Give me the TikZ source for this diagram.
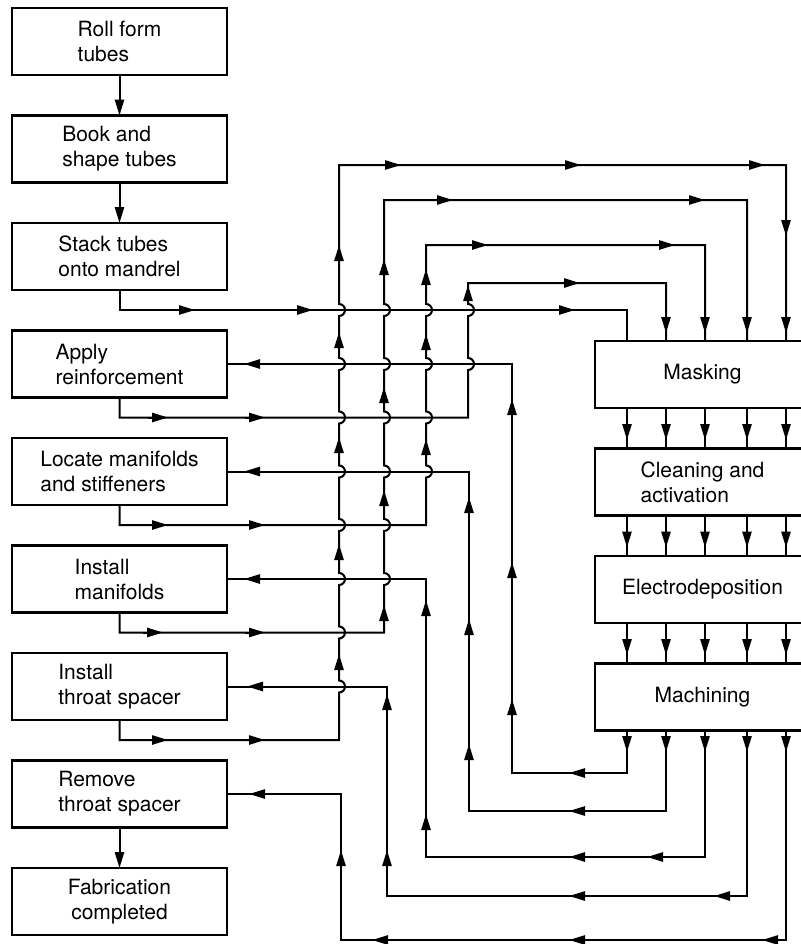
\documentclass[tikz,border=0pt]{standalone}
\usepackage{fontspec}
\setmainfont{TeX Gyre Heros}
\usetikzlibrary{positioning, arrows.meta}

\tikzset{
  procbox/.style={rectangle, draw, line width=1.3pt, outer sep=0pt, minimum width=107.5pt, minimum height=33.5pt, align=left},
  wire/.style={line width=1pt},
  midhead/.style={line width=1pt, -{Triangle[length=8pt, width=4.6pt]}}
}
% arrowhead sitting on a line: x, y, direction
\newcommand{\tipat}[3]{\draw[midhead] ([shift={(#3+180:6pt)}]#1,#2) -- ++(#3:10pt);}

\begin{document}
\begin{tikzpicture}[x=0.5pt, y=-0.5pt, font=\fontsize{10.5}{12.5}\selectfont, >={Triangle[length=8pt, width=4.6pt]}]
  \useasboundingbox (0,0) rectangle (801,944);

  % fabrication steps
  \node[procbox] (roll) at (119.5,41.5) {Roll form\\tubes};
  \node[procbox, below=20.25pt of roll] (book) {Book and\\shape tubes};
  \node[procbox, below=20.25pt of book] (stack) {Stack tubes\\onto mandrel};
  \node[procbox, below=20.25pt of stack] (apply) {Apply\\reinforcement};
  \node[procbox, below=20.25pt of apply] (locate) {Locate manifolds\\and stiffeners};
  \node[procbox, below=20.25pt of locate] (manif) {Install\\manifolds};
  \node[procbox, below=20.25pt of manif] (throat) {Install\\throat spacer};
  \node[procbox, below=20.25pt of throat] (remove) {Remove\\throat spacer};
  \node[procbox, align=center, below=20.25pt of remove] (fab) {Fabrication\\completed};

  % plating line
  \node[procbox] (mask) at (702.5,374.5) {Masking};
  \node[procbox, below=20.25pt of mask] (clean) {Cleaning and\\activation};
  \node[procbox, below=20.25pt of clean] (electro) {Electrodeposition};
  \node[procbox, below=20.25pt of electro] (mach) {Machining};

  \foreach \k/\dx in {1/32,2/71,3/110,4/152,5/191}{
    \coordinate (mt\k) at ([xshift=\dx/2]mask.north west);
    \coordinate (mb\k) at ([xshift=\dx/2]mach.south west);
  }

  \draw[wire, ->] (roll) -- (book);
  \draw[wire, ->] (book) -- (stack);
  \draw[wire, ->] (remove) -- (fab);

  \foreach \a/\b in {mask/clean, clean/electro, electro/mach}
    \foreach \dx in {32,71,110,152,191}
      \draw[wire] ([xshift=\dx/2]\a.south west) -- ([xshift=\dx/2]\b.north west);
  \foreach \y in {432,539.5,647,744}
    \foreach \x in {627,666,705,747,786}
      \tipat{\x}{\y}{270};

  % out to masking
  \draw[wire] (stack.south) -- ++(0,20) -| (mt1);
  \draw[wire] (apply.south) -- ++(0,20) -- (468,417.5)
    foreach \c in {364,310}{-- (468,\c+6) arc[start angle=-90, end angle=90, radius=3pt]}
    -- (468,283) -| (mt2);
  \draw[wire] (locate.south) -- ++(0,20) -- (426,525)
    foreach \c in {471.5,417.5,364,310}{-- (426,\c+6) arc[start angle=-90, end angle=90, radius=3pt]}
    -- (426,245) -| (mt3);
  \draw[wire] (manif.south) -- ++(0,20) -- (384,632.5)
    foreach \c in {579,525,471.5,417.5,364,310}{-- (384,\c+6) arc[start angle=-90, end angle=90, radius=3pt]}
    -- (384,200) -| (mt4);
  \draw[wire] (throat.south) -- ++(0,20) -- (339,740)
    foreach \c in {686.5,632.5,579,525,471.5,417.5,364,310}{-- (339,\c+6) arc[start angle=-90, end angle=90, radius=3pt]}
    -- (339,165) -| (mt5);

  \foreach \x/\y/\d in {187/310/0, 305/310/0, 567/310/0,
      160/417.5/0, 257/417.5/0, 468/293/90, 572/283/0, 666/325/270,
      160/525/0, 257/525/0, 426/447/90, 426/342/90, 426/277/90, 480/245/0, 667/245/0, 705/325/270,
      155/632.5/0, 257/632.5/0, 384/613/90, 384/498/90, 384/395/90, 384/267/90, 445/200/0, 697/200/0, 747/325/270,
      160/740/0, 257/740/0, 339/662/90, 339/552/90, 339/445/90, 339/340/90, 339/253/90,
      393/165/0, 573/165/0, 757/165/0, 786/228/270, 786/325/270}
    \tipat{\x}{\y}{\d};

  % back from machining
  \draw[wire] (mb1) |- (512,773) |- (apply.east);
  \draw[wire] (mb2) |- (469,811) |- (locate.east);
  \draw[wire] (mb3) |- (426,857) |- (manif.east);
  \draw[wire] (mb4) |- (387,896) |- (throat.east);
  \draw[wire] (mb5) |- (341,940) |- (remove.east);

  \foreach \x/\y/\d in {577/773/180, 512/707/90, 512/570/90, 512/407/90, 252/364/180,
      577/811/180, 469/752/90, 469/627/90, 469/505/90, 252/471.5/180,
      655/857/180, 577/857/180, 426/822/90, 426/608/90, 252/579/180,
      722/896/180, 577/896/180, 387/858/90, 387/702/90, 255/686.5/180,
      770/940/180, 577/940/180, 380/940/180, 341/858/90, 257/794/180}
    \tipat{\x}{\y}{\d};
\end{tikzpicture}
\end{document}
